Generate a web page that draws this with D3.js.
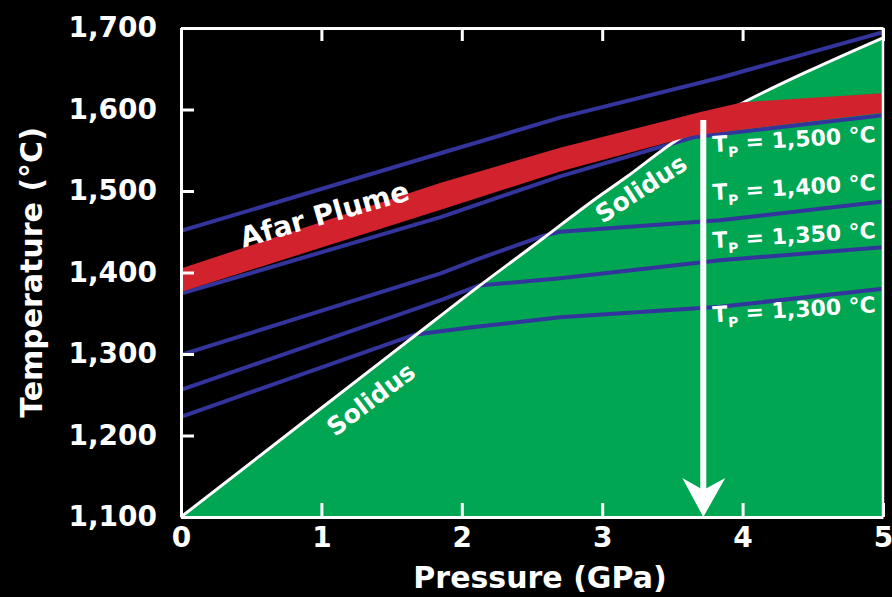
<!DOCTYPE html>
<html>
<head>
<meta charset="utf-8">
<script src="https://cdn.jsdelivr.net/npm/d3@7"></script>
<style>
  html, body { margin: 0; padding: 0; background: #000; }
  svg { display: block; }
  text { font-family: "DejaVu Sans", sans-serif; font-weight: bold; fill: #fff; }
</style>
</head>
<body>
<svg id="chart" width="892" height="597"></svg>
<script>
// Axis ticks
const pressureTicks = [0, 1, 2, 3, 4, 5];          // GPa
const temperatureTicks = [1100, 1200, 1300, 1400, 1500, 1600, 1700]; // °C

// Peridotite solidus
const solidusP = [0, 0.98, 1.67, 2.09, 2.58, 2.91, 3.18, 3.5, 4.0, 4.48, 5.0];
const solidusT = [1100, 1231, 1323, 1379, 1442, 1485, 1518, 1559, 1608, 1648, 1688];

// Mantle adiabats (melting path above the solidus, solid path below it)
const adiabatHotP = [0, 1.92, 2.7, 3.84, 5];
const adiabatHotT = [1451, 1550, 1590, 1639, 1695];
const tp1500P = [0, 1.85, 2.7, 3.65, 5];
const tp1500T = [1374, 1468, 1518, 1566, 1593];
const tp1400P = [0, 1.85, 2.09, 2.58, 2.7, 3.84, 5];
const tp1400T = [1299, 1399, 1415, 1445, 1450, 1464, 1487];
const tp1350P = [0, 1.85, 2.12, 2.7, 3.84, 5];
const tp1350T = [1256, 1366, 1384, 1393, 1415, 1431];
const tp1300P = [0, 1.67, 2.09, 2.7, 3.84, 5];
const tp1300T = [1223, 1324, 1333, 1345, 1358, 1380];

// Afar plume temperature band
const plumeUpperP = [0, 1.85, 2.7, 3.7, 4.0, 5];
const plumeUpperT = [1405, 1510, 1553, 1597, 1609, 1620];
const plumeLowerP = [0, 1.85, 2.7, 3.65, 5];
const plumeLowerT = [1376, 1477, 1524, 1568, 1596];

// Onset of melting for the plume path
const meltArrowP = 3.72;
const meltArrowT = [1587, 1100];

// Potential-temperature labels
const tpLabels = ["1,500", "1,400", "1,350", "1,300"];

const svg = d3.select("#chart");
const m = { left: 181, right: 883, top: 28, bottom: 517 };

const x = d3.scaleLinear().domain([0, 5]).range([m.left, m.right]);
const y = d3.scaleLinear().domain([1100, 1700]).range([m.bottom, m.top]);

const zip = (ps, ts) => ps.map((p, i) => [p, ts[i]]);
const line = d3.line().x(d => x(d[0])).y(d => y(d[1]));

svg.append("defs").append("clipPath").attr("id", "plot")
  .append("rect").attr("x", m.left).attr("y", m.top)
  .attr("width", m.right - m.left).attr("height", m.bottom - m.top);

const plot = svg.append("g").attr("clip-path", "url(#plot)");

// Sub-solidus field
const solidus = zip(solidusP, solidusT);
plot.append("path")
  .datum(solidus)
  .attr("d", d3.area().x(d => x(d[0])).y0(y(1100)).y1(d => y(d[1])).curve(d3.curveMonotoneX))
  .attr("fill", "#00a651");

// Adiabats
const blue = "#33349c";
[[adiabatHotP, adiabatHotT], [tp1500P, tp1500T], [tp1400P, tp1400T],
 [tp1350P, tp1350T], [tp1300P, tp1300T]].forEach(([ps, ts]) => {
  plot.append("path")
    .datum(zip(ps, ts))
    .attr("d", line)
    .attr("fill", "none")
    .attr("stroke", blue)
    .attr("stroke-width", 4)
    .attr("stroke-linejoin", "round");
});

// Solidus line
plot.append("path")
  .datum(solidus)
  .attr("d", line.curve(d3.curveMonotoneX))
  .attr("fill", "none")
  .attr("stroke", "#fff")
  .attr("stroke-width", 3);
line.curve(d3.curveLinear);

// Plume band
const band = zip(plumeUpperP, plumeUpperT).concat(zip(plumeLowerP, plumeLowerT).reverse());
plot.append("path")
  .datum(band)
  .attr("d", d => line(d) + "Z")
  .attr("fill", "#d2222e");

// Arrow down from the plume path
const ax = x(meltArrowP), ay0 = y(meltArrowT[0]), ay1 = y(meltArrowT[1]);
svg.append("line")
  .attr("x1", ax).attr("x2", ax).attr("y1", ay0).attr("y2", ay1 - 20)
  .attr("stroke", "#fff").attr("stroke-width", 6);
svg.append("path")
  .attr("d", `M${ax},${ay1} L${ax - 21},${ay1 - 39} L${ax},${ay1 - 27} L${ax + 22},${ay1 - 39} Z`)
  .attr("fill", "#fff");

// Axes and frame
const styleAxis = g => {
  g.attr("color", "#fff").attr("font-family", null).attr("font-size", null);
  g.selectAll("path.domain").attr("stroke-width", 3);
  g.selectAll(".tick line").attr("stroke-width", 3);
  g.selectAll("text").style("font-size", "28px");
};

svg.append("g")
  .attr("transform", `translate(${m.left},0)`)
  .call(d3.axisLeft(y).tickValues(temperatureTicks).tickFormat(d3.format(","))
    .tickSizeInner(-13).tickSizeOuter(0).tickPadding(24))
  .call(styleAxis);

svg.append("g")
  .attr("transform", `translate(0,${m.bottom})`)
  .call(d3.axisBottom(x).tickValues(pressureTicks).tickFormat(d3.format("d"))
    .tickSizeInner(-14).tickSizeOuter(0).tickPadding(10))
  .call(styleAxis);

svg.append("g")
  .attr("transform", `translate(0,${m.top})`)
  .call(d3.axisTop(x).tickValues(pressureTicks).tickFormat("")
    .tickSizeInner(-13).tickSizeOuter(0))
  .call(styleAxis);

svg.append("line")
  .attr("x1", m.right).attr("x2", m.right).attr("y1", m.top).attr("y2", m.bottom)
  .attr("stroke", "#fff").attr("stroke-width", 2.5);

// Axis titles
svg.append("text")
  .attr("x", (m.left + m.right) / 2 + 8).attr("y", 588)
  .attr("text-anchor", "middle")
  .style("font-size", "30px")
  .text("Pressure (GPa)");

svg.append("text")
  .attr("transform", `translate(42,${(m.top + m.bottom) / 2}) rotate(-90)`)
  .attr("text-anchor", "middle")
  .style("font-size", "30px")
  .text("Temperature (°C)");

// Curve annotations
const rotatedLabel = (p, t, angle, size, txt) =>
  svg.append("text")
    .attr("transform", `translate(${x(p)},${y(t)}) rotate(${angle})`)
    .attr("text-anchor", "middle")
    .style("font-size", size + "px")
    .text(txt);

rotatedLabel(1.04, 1460, -16, 28, "Afar Plume");
rotatedLabel(1.39, 1236, -37, 25, "Solidus");
rotatedLabel(3.31, 1494, -33, 25, "Solidus");

const tpAnchors = [1548, 1489, 1430, 1339];
tpLabels.forEach((lab, i) => {
  const t = svg.append("text")
    .attr("transform", `translate(${x(3.79)},${y(tpAnchors[i])}) rotate(-3.5)`)
    .style("font-size", "22px");
  t.append("tspan").text("T");
  t.append("tspan").attr("dy", 6).style("font-size", "14px").text("P");
  t.append("tspan").attr("dy", -6).text(` = ${lab} °C`);
});
</script>
</body>
</html>
